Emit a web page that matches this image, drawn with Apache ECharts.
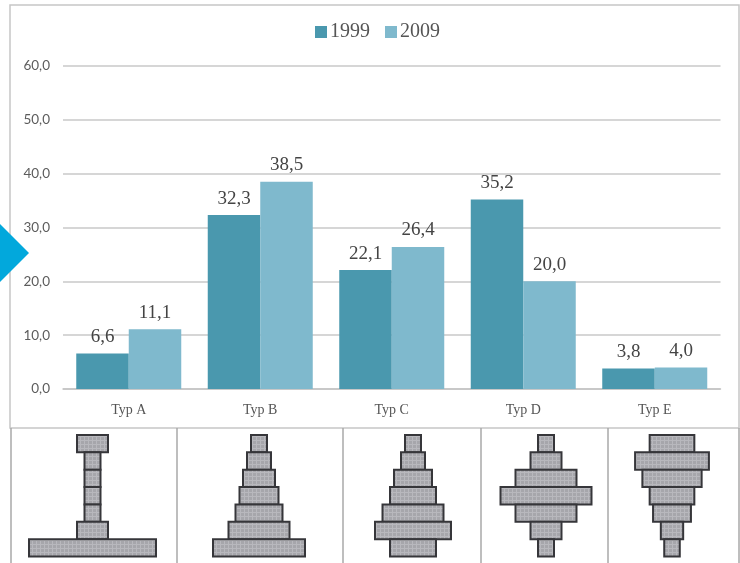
<!DOCTYPE html>
<html>
<head>
<meta charset="utf-8">
<style>html,body{margin:0;padding:0;background:#fff}#chart{width:740px;height:563px}</style>
<script src="https://cdn.jsdelivr.net/npm/echarts@6/dist/echarts.min.js"></script>
</head>
<body>
<div id="chart"></div>
<script>
// Settlement types and their shares in the two census years
const categories = ['Typ A', 'Typ B', 'Typ C', 'Typ D', 'Typ E'];
const values1999 = [6.6, 32.3, 22.1, 35.2, 3.8];
const values2009 = [11.1, 38.5, 26.4, 20.0, 4.0];

// Width of each layer of the age pyramids, top layer first
const pyramidA = [31, 16, 16, 16, 16, 31, 127];
const pyramidB = [16, 24, 32, 39, 47, 61, 92];
const pyramidC = [16, 24, 38, 46, 61, 76, 46];
const pyramidD = [16, 31, 61, 91, 61, 31, 16];
const pyramidE = [46, 76, 61, 46, 39, 23, 16];
const pyramids = [pyramidA, pyramidB, pyramidC, pyramidD, pyramidE];
const pyramidCentres = [92.5, 259, 413, 546, 674];

const formatComma = v => v.toFixed(1).replace('.', ',');

// Small mesh tile used as the fill of the pyramid layers
const tile = document.createElement('canvas');
tile.width = 4; tile.height = 4;
const ctx = tile.getContext('2d');
ctx.fillStyle = '#a6a6ab';
ctx.fillRect(0, 0, 4, 4);
ctx.fillStyle = '#b8b8bd';
ctx.fillRect(0, 0, 1, 4);
ctx.fillRect(0, 0, 4, 1);

const serif = '"Liberation Serif", serif';
const chart = echarts.init(document.getElementById('chart'), null, {renderer: 'canvas'});

const grids = [{left: 63, top: 66, width: 657.5, height: 323}];
const xAxes = [{
  type: 'category', data: categories, gridIndex: 0,
  axisTick: {show: false},
  axisLine: {lineStyle: {color: '#c4c4c4', width: 1.5}},
  axisLabel: {fontFamily: serif, fontSize: 14, color: '#555', margin: 14}
}];
const yAxes = [{
  type: 'value', gridIndex: 0, min: 0, max: 60, interval: 10,
  axisLabel: {formatter: formatComma, fontFamily: 'Lato', fontSize: 13.5, color: '#5c5c5c', margin: 13, padding: [6, 0, 0, 0]},
  splitLine: {lineStyle: {color: '#c8c8c8', width: 1.5}},
  axisLine: {show: false}, axisTick: {show: false}
}];

const valueLabel = {
  show: true, position: 'top', distance: 7, formatter: p => formatComma(p.value),
  fontFamily: serif, fontSize: 19, color: '#444'
};
const series = [
  {name: '1999', type: 'bar', data: values1999, barWidth: 52.5, barGap: 0, itemStyle: {color: '#4a98ae'}, label: valueLabel},
  {name: '2009', type: 'bar', data: values2009, barWidth: 52.5, barGap: 0, itemStyle: {color: '#7fb9cd'}, label: valueLabel}
];

// One hidden grid per pyramid; layers are centred on zero of its value axis
pyramids.forEach((layers, idx) => {
  const g = idx + 1;
  grids.push({left: pyramidCentres[idx] - 70, top: 435, width: 140, height: 121.5});
  xAxes.push({type: 'value', gridIndex: g, min: -70, max: 70, show: false});
  yAxes.push({type: 'category', gridIndex: g, inverse: true, show: false, data: layers.map((_, i) => i)});
  series.push({
    type: 'custom', xAxisIndex: g, yAxisIndex: g, silent: true,
    data: layers.map((w, i) => [w, i]),
    encode: {x: 0, y: 1},
    renderItem: (params, api) => {
      const w = api.value(0);
      const a = api.coord([-w / 2, api.value(1)]);
      const b = api.coord([w / 2, api.value(1)]);
      const h = api.size([0, 1])[1];
      return {
        type: 'rect',
        shape: {x: a[0], y: a[1] - h / 2, width: b[0] - a[0], height: h},
        style: {fill: {image: tile, repeat: 'repeat'}, stroke: '#36363a', lineWidth: 2}
      };
    }
  });
});

// Frame of the chart, cell dividers below it and the blue page marker
const frameColor = '#c6c6c6';
const vLine = x => ({
  type: 'line', shape: {x1: x, y1: 428, x2: x, y2: 563},
  style: {stroke: '#a8a8a8', lineWidth: 1.5}
});
const graphic = [
  {type: 'rect', shape: {x: 10, y: 5, width: 729, height: 423}, style: {fill: 'none', stroke: frameColor, lineWidth: 1.5}, z: 0},
  vLine(11), vLine(177), vLine(343), vLine(481), vLine(608), vLine(739),
  {type: 'polygon', shape: {points: [[0, 224], [29, 253], [0, 282]]}, style: {fill: '#02a8dc'}, z: 10}
];

chart.setOption({
  animation: false,
  backgroundColor: '#fff',
  legend: {
    data: ['1999', '2009'], top: 17, left: 310,
    itemWidth: 12, itemHeight: 12, itemGap: 15,
    icon: 'rect',
    textStyle: {fontFamily: serif, fontSize: 20, color: '#555', padding: [0, 0, 0, -2]}
  },
  grid: grids, xAxis: xAxes, yAxis: yAxes, series, graphic
});
</script>
</body>
</html>
